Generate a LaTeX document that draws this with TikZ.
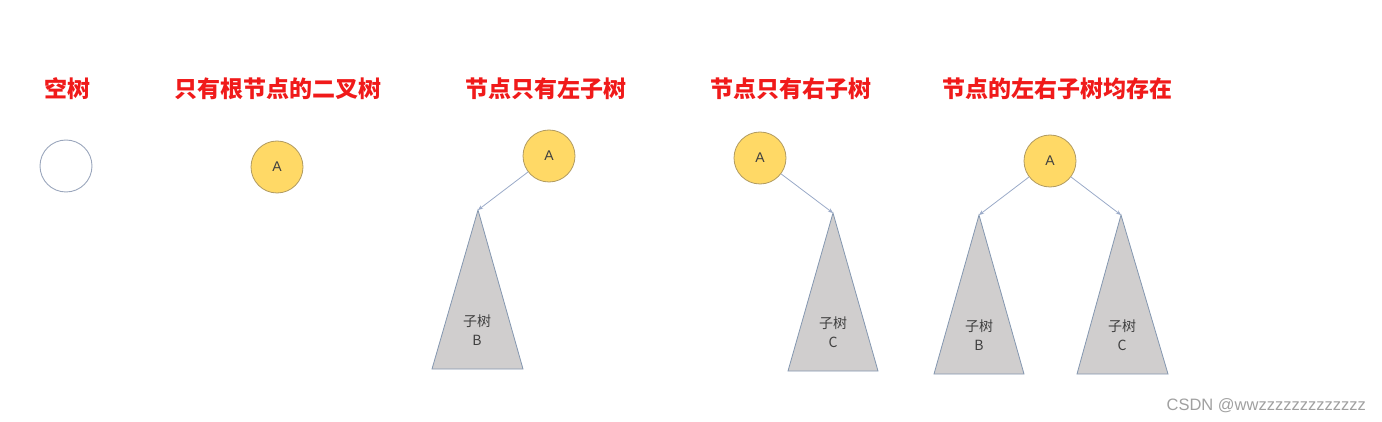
\documentclass[tikz,border=0pt]{standalone}
\usepackage{fontspec}
\setmainfont{Liberation Sans}
\newfontfamily\cjk{Noto Sans CJK SC}
\usetikzlibrary{arrows.meta}
\definecolor{titred}{HTML}{F01A1A}
\definecolor{nodefill}{HTML}{FFD966}
\definecolor{nodeline}{HTML}{B09A60}
\definecolor{emptyline}{HTML}{9AA6BC}
\definecolor{trifill}{HTML}{D0CECE}
\definecolor{triline}{HTML}{8497B0}
\definecolor{edgeline}{HTML}{9AAAC8}
\definecolor{txt}{HTML}{404040}
\definecolor{wm}{HTML}{A0A0A0}
\begin{document}
\begin{tikzpicture}[x=1pt,y=-1pt,
  title/.style={font=\cjk\bfseries\fontsize{23}{26}\selectfont, text=titred, inner sep=0pt},
  rootnode/.style={circle, minimum size=52pt, inner sep=0pt, fill=nodefill, draw=nodeline, line width=0.8pt, text=txt, font=\fontsize{14}{16}\selectfont},
  emptynode/.style={circle, minimum size=52pt, inner sep=0pt, draw=emptyline, line width=0.9pt},
  subtree/.style={fill=trifill, draw=triline, line width=0.8pt, line join=miter},
  sublabel/.style={align=center, text=txt, font=\cjk\fontsize{14}{19}\selectfont, inner sep=0pt},
  edge/.style={draw=edgeline, line width=0.8pt, -{Stealth[length=5pt,width=4pt]}}
]
\useasboundingbox (0,0) rectangle (1382,422);
% titles
\node[title] (t1) at (67,89) {空树};
\node[title] (t2) at (278,89) {只有根节点的二叉树};
\node[title] (t3) at (546,89) {节点只有左子树};
\node[title] (t4) at (791,89) {节点只有右子树};
\node[title] (t5) at (1057,89) {节点的左右子树均存在};
% empty tree
\node[emptynode] (e) at (66,166) {};
% single root
\node[rootnode] (a2) at (277,167) {A};
% left only
\node[rootnode] (a3) at (549,156) {A};
\coordinate (b3) at (478,210);
\coordinate (b3l) at (432,369);
\coordinate (b3r) at (523,369);
\draw[subtree] (b3) -- (b3r) -- (b3l) -- cycle;
\node[sublabel] (lb3) at (477,330) {子树\\B};
\draw[edge] (a3) -- (b3);
% right only
\node[rootnode] (a4) at (760,158) {A};
\coordinate (c4) at (833,213);
\coordinate (c4l) at (788,371);
\coordinate (c4r) at (878,371);
\draw[subtree] (c4) -- (c4r) -- (c4l) -- cycle;
\node[sublabel] (lc4) at (833,332) {子树\\C};
\draw[edge] (a4) -- (c4);
% both
\node[rootnode] (a5) at (1050,161) {A};
\coordinate (b5) at (979,215);
\coordinate (b5l) at (934,374);
\coordinate (b5r) at (1024,374);
\coordinate (c5) at (1121,215);
\coordinate (c5l) at (1077,374);
\coordinate (c5r) at (1168,374);
\draw[subtree] (b5) -- (b5r) -- (b5l) -- cycle;
\draw[subtree] (c5) -- (c5r) -- (c5l) -- cycle;
\node[sublabel] (lb5) at (979,335) {子树\\B};
\node[sublabel] (lc5) at (1122,335) {子树\\C};
\draw[edge] (a5) -- (b5);
\draw[edge] (a5) -- (c5);
% watermark
\node[text=wm, font=\fontsize{16.5}{18}\selectfont, anchor=east, inner sep=0pt] (wmk) at (1366,406) {CSDN @wwzzzzzzzzzzzzz};
\end{tikzpicture}
\end{document}
